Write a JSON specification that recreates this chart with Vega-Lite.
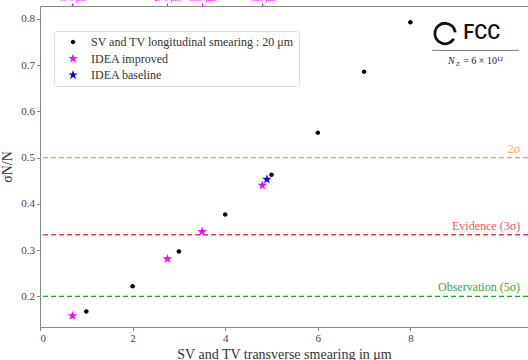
{
  "$schema": "https://vega.github.io/schema/vega-lite/v6.json",
  "width": 488,
  "height": 321,
  "autosize": {"type": "none"},
  "padding": {"left": 40, "top": 6, "right": 0, "bottom": 33},
  "background": "white",
  "config": {
    "view": {"stroke": null},
    "font": "Liberation Serif",
    "axis": {
      "grid": false,
      "domainColor": "#888888",
      "tickColor": "#888888",
      "labelColor": "#444444",
      "titleColor": "#333333",
      "labelFont": "Liberation Serif",
      "titleFont": "Liberation Serif",
      "labelFontSize": 11,
      "titleFontSize": 14,
      "titleFontWeight": "normal",
      "tickSize": 3.5,
      "labelPadding": 2
    },
    "legend": {
      "labelFont": "Liberation Serif",
      "labelFontSize": 12,
      "labelColor": "#333333",
      "labelLimit": 400,
      "padding": 5,
      "strokeColor": "#dddddd",
      "cornerRadius": 3,
      "fillColor": "white",
      "symbolSize": 100,
      "rowPadding": 4.5,
      "symbolOffset": 8,
      "labelOffset": 12,
      "symbolStrokeWidth": 0
    }
  },
  "datasets": {
    "points": [
      {"x": 1, "y": 0.167, "series": "SV and TV longitudinal smearing : 20 μm"},
      {"x": 2, "y": 0.222, "series": "SV and TV longitudinal smearing : 20 μm"},
      {"x": 3, "y": 0.297, "series": "SV and TV longitudinal smearing : 20 μm"},
      {"x": 4, "y": 0.377, "series": "SV and TV longitudinal smearing : 20 μm"},
      {"x": 5, "y": 0.463, "series": "SV and TV longitudinal smearing : 20 μm"},
      {"x": 6, "y": 0.554, "series": "SV and TV longitudinal smearing : 20 μm"},
      {"x": 7, "y": 0.686, "series": "SV and TV longitudinal smearing : 20 μm"},
      {"x": 8, "y": 0.793, "series": "SV and TV longitudinal smearing : 20 μm"},
      {"x": 0.7, "y": 0.158, "series": "IDEA improved"},
      {"x": 2.75, "y": 0.281, "series": "IDEA improved"},
      {"x": 3.5, "y": 0.34, "series": "IDEA improved"},
      {"x": 4.8, "y": 0.44, "series": "IDEA improved"},
      {"x": 4.9, "y": 0.453, "series": "IDEA baseline"}
    ],
    "one": [{}]
  },
  "resolve": {"axis": {"x": "independent", "y": "independent"}},
  "layer": [
    {
      "data": {"name": "one"},
      "mark": {"type": "rule", "color": "#f5a030", "strokeWidth": 1.4, "strokeDash": [5, 3]},
      "encoding": {"y": {"datum": 0.5, "axis": null}}
    },
    {
      "data": {"name": "one"},
      "mark": {"type": "rule", "color": "#f03c3c", "strokeWidth": 1.4, "strokeDash": [5, 3]},
      "encoding": {"y": {"datum": 0.3333, "axis": null}}
    },
    {
      "data": {"name": "one"},
      "mark": {"type": "rule", "color": "#22a022", "strokeWidth": 1.4, "strokeDash": [5, 3]},
      "encoding": {"y": {"datum": 0.2, "axis": null}}
    },
    {
      "data": {"name": "one"},
      "mark": {"type": "text", "text": "2σ", "align": "right", "baseline": "alphabetic", "dy": -5, "fontSize": 12, "color": "#f5ad45"},
      "encoding": {"x": {"datum": 10.37, "type": "quantitative", "axis": null}, "y": {"datum": 0.5, "axis": null}}
    },
    {
      "data": {"name": "one"},
      "mark": {"type": "text", "text": "Evidence (3σ)", "align": "right", "baseline": "alphabetic", "dy": -5, "fontSize": 12, "color": "#f25a5a"},
      "encoding": {"x": {"datum": 10.37, "type": "quantitative", "axis": null}, "y": {"datum": 0.3333, "axis": null}}
    },
    {
      "data": {"name": "one"},
      "mark": {"type": "text", "text": "Observation (5σ)", "align": "right", "baseline": "alphabetic", "dy": -5, "fontSize": 12, "color": "#3aa63a"},
      "encoding": {"x": {"datum": 10.37, "type": "quantitative", "axis": null}, "y": {"datum": 0.2, "axis": null}}
    },
    {
      "data": {"name": "points"},
      "transform": [{"filter": "datum.series == 'IDEA improved'"}],
      "mark": {"type": "point", "opacity": 0},
      "encoding": {
        "x": {"field": "x", "type": "quantitative",
          "axis": {"orient": "top", "values": [0.7, 2.75, 3.5, 4.8], "title": null, "tickColor": "#ff00ff", "tickSize": 3, "labelColor": "#ff00ff", "labelFontSize": 8, "labelPadding": 2.5, "labelBaseline": "alphabetic", "labelExpr": "format(datum.value, '.2f') + ' μm'"}},
        "y": {"field": "y", "type": "quantitative", "axis": null}
      }
    },
    {
      "data": {"name": "points"},
      "mark": {"type": "point", "filled": true, "size": 100, "opacity": 1},
      "encoding": {
        "x": {"field": "x", "type": "quantitative",
          "scale": {"domain": [0, 10.54], "nice": false, "zero": false},
          "axis": {"values": [0, 2, 4, 6, 8], "title": "SV and TV transverse smearing in μm", "titlePadding": 4}},
        "y": {"field": "y", "type": "quantitative",
          "scale": {"domain": [0.1337, 0.828], "nice": false, "zero": false},
          "axis": {"values": [0.2, 0.3, 0.4, 0.5, 0.6, 0.7, 0.8], "format": ".1f", "title": "σN/N", "titlePadding": 6}},
        "color": {"field": "series", "type": "nominal",
          "scale": {"domain": ["SV and TV longitudinal smearing : 20 μm", "IDEA improved", "IDEA baseline"], "range": ["#000000", "#ff00ff", "#0000ff"]},
          "legend": {"title": null, "orient": "none", "legendX": 14, "legendY": 25}},
        "shape": {"field": "series", "type": "nominal",
          "scale": {"domain": ["SV and TV longitudinal smearing : 20 μm", "IDEA improved", "IDEA baseline"], "range": ["M0.45,0A0.45,0.45 0 1 1 -0.45,0A0.45,0.45 0 1 1 0.45,0Z", "M0,-1L0.2245,-0.309L0.951,-0.309L0.363,0.118L0.588,0.809L0,0.382L-0.588,0.809L-0.363,0.118L-0.951,-0.309L-0.2245,-0.309Z", "M0,-1L0.2245,-0.309L0.951,-0.309L0.363,0.118L0.588,0.809L0,0.382L-0.588,0.809L-0.363,0.118L-0.951,-0.309L-0.2245,-0.309Z"]},
          "legend": {"title": null, "orient": "none", "legendX": 14, "legendY": 25}}
      }
    },
    {
      "data": {"name": "one"},
      "mark": {"type": "point", "shape": "M0.85,0.53A1,1 0 1 1 0.99,-0.1", "filled": false, "stroke": "#111111", "strokeWidth": 2.8, "size": 420, "opacity": 1},
      "encoding": {"x": {"datum": 8.75, "type": "quantitative", "axis": null}, "y": {"datum": 0.7687, "axis": null}}
    },
    {
      "data": {"name": "one"},
      "mark": {"type": "text", "text": "FCC", "align": "left", "baseline": "middle", "font": "Roboto", "fontWeight": 500, "fontSize": 20, "color": "#111111"},
      "encoding": {"x": {"datum": 9.14, "type": "quantitative", "axis": null}, "y": {"datum": 0.7687, "axis": null}}
    },
    {
      "data": {"name": "one"},
      "mark": {"type": "rule", "color": "#777777", "strokeWidth": 1},
      "encoding": {"x": {"datum": 8.47, "type": "quantitative", "axis": null}, "x2": {"datum": 10.35}, "y": {"datum": 0.732, "axis": null}}
    },
    {
      "data": {"name": "one"},
      "mark": {"type": "text", "text": "N", "align": "left", "baseline": "alphabetic", "fontStyle": "italic", "fontSize": 10, "color": "#222222"},
      "encoding": {"x": {"datum": 8.81, "type": "quantitative", "axis": null}, "y": {"datum": 0.703, "axis": null}}
    },
    {
      "data": {"name": "one"},
      "mark": {"type": "text", "text": "Z", "align": "left", "baseline": "alphabetic", "dy": 2, "fontSize": 7, "color": "#222222"},
      "encoding": {"x": {"datum": 8.98, "type": "quantitative", "axis": null}, "y": {"datum": 0.703, "axis": null}}
    },
    {
      "data": {"name": "one"},
      "mark": {"type": "text", "text": "= 6 × 10¹²", "align": "left", "baseline": "alphabetic", "fontSize": 10, "color": "#222222"},
      "encoding": {"x": {"datum": 9.14, "type": "quantitative", "axis": null}, "y": {"datum": 0.703, "axis": null}}
    }
  ]
}
